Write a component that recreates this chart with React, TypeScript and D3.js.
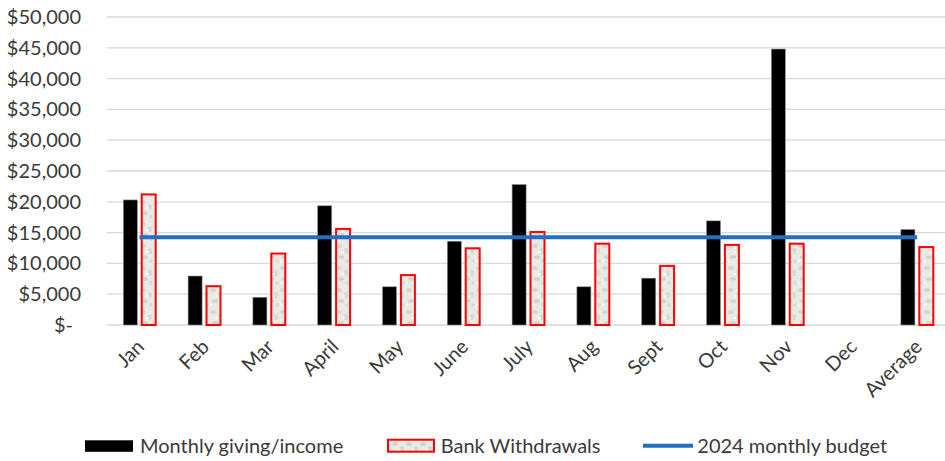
import React from "react";
import * as d3 from "d3";

const categories = ["Jan", "Feb", "Mar", "April", "May", "June", "July", "Aug", "Sept", "Oct", "Nov", "Dec", "Average"];
const monthlyGiving: (number | null)[] = [20300, 7950, 4500, 19350, 6200, 13600, 22800, 6200, 7600, 16900, 44800, null, 15500];
const bankWithdrawals: (number | null)[] = [21200, 6300, 11600, 15600, 8100, 12450, 15100, 13200, 9600, 13000, 13200, null, 12650];
const monthlyBudget = 14250;
const yTicks = [0, 5000, 10000, 15000, 20000, 25000, 30000, 35000, 40000, 45000, 50000];
const seriesNames = ["Monthly giving/income", "Bank Withdrawals", "2024 monthly budget"];

const W = 945;
const H = 461;
const FONT = "Lato, 'Noto Sans', sans-serif";
const TEXT = "#3a3a3a";

export default function App() {
  const x = d3.scaleBand<string>().domain(categories).range([107.1, 949.5]).padding(0);
  const y = d3.scaleLinear().domain([0, 50000]).range([325, 17]);
  const groupW = x.bandwidth() * 0.5;
  const x1 = d3.scaleBand<string>().domain(["giving", "withdrawals"]).range([-groupW / 2, groupW / 2]).paddingInner(0.24);
  const cx = (c: string) => (x(c) as number) + x.bandwidth() / 2;
  const fmt = (v: number) => (v === 0 ? "$-" : "$" + d3.format(",")(v));
  const line = d3
    .line<string>()
    .x((c) => cx(c))
    .y(() => y(monthlyBudget));

  return (
    <svg width={W} height={H} style={{ position: "fixed", left: 0, top: 0, background: "#fff" }} fontFamily={FONT}>
      <defs>
        <pattern id="tex" patternUnits="userSpaceOnUse" width="14" height="22">
          <rect width="14" height="22" fill="#e9e9e5" />
          <ellipse cx="3" cy="4" rx="2.8" ry="2" fill="#cfcfc8" opacity="0.8" />
          <ellipse cx="10" cy="9" rx="2.2" ry="3" fill="#d4d4cd" opacity="0.8" />
          <ellipse cx="5" cy="15" rx="3.2" ry="1.8" fill="#cacac3" opacity="0.7" />
          <ellipse cx="11" cy="19" rx="1.8" ry="2" fill="#d6d6cf" opacity="0.8" />
          <ellipse cx="7" cy="10" rx="1.8" ry="1.2" fill="#f6f6f4" />
          <ellipse cx="1" cy="19" rx="1.4" ry="1.8" fill="#f4f4f2" />
        </pattern>
      </defs>

      {/* gridlines */}
      {yTicks.map((t) => (
        <line key={t} x1={107} x2={949} y1={y(t)} y2={y(t)} stroke="#d9d9d9" strokeWidth={1.3} />
      ))}

      {/* y tick labels */}
      {yTicks.map((t) => (
        <text
          key={"l" + t}
          x={t === 0 ? 73 : 81}
          y={y(t)}
          dy="0.35em"
          textAnchor="end"
          fontSize={20}
          fill={TEXT}
        >
          {fmt(t)}
        </text>
      ))}

      {/* bars */}
      {categories.map((c, i) => {
        const g = monthlyGiving[i];
        const b = bankWithdrawals[i];
        const c0 = cx(c);
        return (
          <g key={c}>
            {g != null && (
              <rect
                x={c0 + (x1("giving") as number)}
                y={y(g)}
                width={x1.bandwidth()}
                height={y(0) - y(g)}
                fill="#000"
                stroke="#8c8c8c"
                strokeWidth={0.6}
              />
            )}
            {b != null && (
              <rect
                x={c0 + (x1("withdrawals") as number)}
                y={y(b)}
                width={x1.bandwidth()}
                height={y(0) - y(b)}
                fill="url(#tex)"
                stroke="#ff0000"
                strokeWidth={2}
              />
            )}
          </g>
        );
      })}

      {/* budget line */}
      <path d={line(categories) as string} fill="none" stroke="#1f6fc4" strokeWidth={4} />

      {/* category labels */}
      {categories.map((c) => (
        <text
          key={"c" + c}
          transform={`translate(${cx(c) + 6},${348}) rotate(-45)`}
          textAnchor="end"
          fontSize={20}
          fill={TEXT}
        >
          {c}
        </text>
      ))}

      {/* legend */}
      <rect x={85} y={440.3} width={48} height={11.5} fill="#000" />
      <text x={140} y={452.5} fontSize={20} fill={TEXT}>{seriesNames[0]}</text>
      <rect x={388} y={439.7} width={46} height={12} fill="url(#tex)" stroke="#ff0000" strokeWidth={2} />
      <text x={440.7} y={452.5} fontSize={20} fill={TEXT}>{seriesNames[1]}</text>
      <line x1={643} x2={693} y1={445.7} y2={445.7} stroke="#1f6fc4" strokeWidth={4} />
      <text x={697.3} y={452.5} fontSize={20} fill={TEXT}>{seriesNames[2]}</text>
    </svg>
  );
}
